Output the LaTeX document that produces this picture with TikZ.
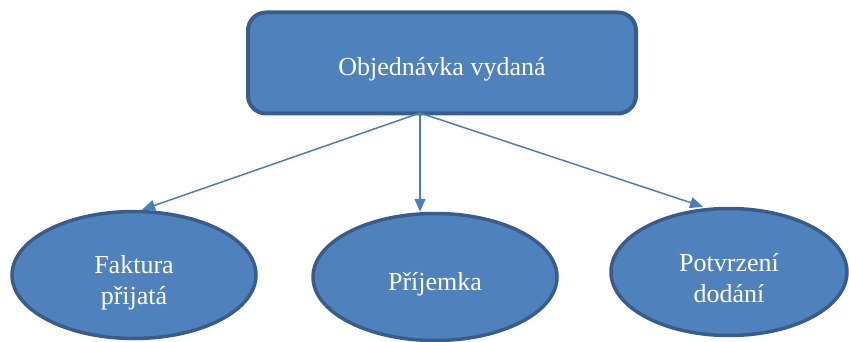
\documentclass[tikz,border=0pt]{standalone}
\usepackage{fontspec}
\setmainfont{Liberation Serif}
\usepackage{tikz}
\usetikzlibrary{shapes.geometric, arrows.meta, positioning}
\definecolor{boxblue}{RGB}{79, 129, 189}
\definecolor{edgeblue}{RGB}{56, 93, 138}
\definecolor{linkblue}{RGB}{74, 126, 187}

\begin{document}
\begin{tikzpicture}[x=1pt, y=-1pt]
    \tikzstyle{order} = [rectangle, rounded corners=18pt, minimum width=388pt, minimum height=101pt, draw=edgeblue, fill=boxblue, line width=4pt, text=white, text height=26pt, text depth=0pt, font=\fontsize{26}{31}\selectfont]
    \tikzstyle{doc} = [ellipse, minimum width=244pt, minimum height=127pt, inner sep=0pt, draw=edgeblue, fill=boxblue, line width=3.5pt, text=white, align=center, font=\fontsize{26}{31}\selectfont]
    \tikzstyle{link} = [draw=linkblue, line width=1.5pt, -{Triangle[length=13pt, width=11pt]}]

    \useasboundingbox (0,0) rectangle (849,342);

    \node (order) [order] at (442,63) {Objednávka vydaná};
    \node (invoice) [doc, text height=64pt] at (134,275) {Faktura\\přijatá};
    \node (receipt) [doc, text height=33pt, text depth=6pt] at (435,277) {Příjemka};
    \node (delivery) [doc, minimum width=236pt, text height=61pt] at (729,272) {Potvrzení\\dodání};

    \coordinate (fork) at (420,113);

    \draw [link] (fork) -- ([xshift=8pt]invoice.north);
    \draw [link] (fork) -- (fork |- receipt.north);
    \draw [link] (fork) -- ([xshift=-26pt]delivery.north);
\end{tikzpicture}
\end{document}
